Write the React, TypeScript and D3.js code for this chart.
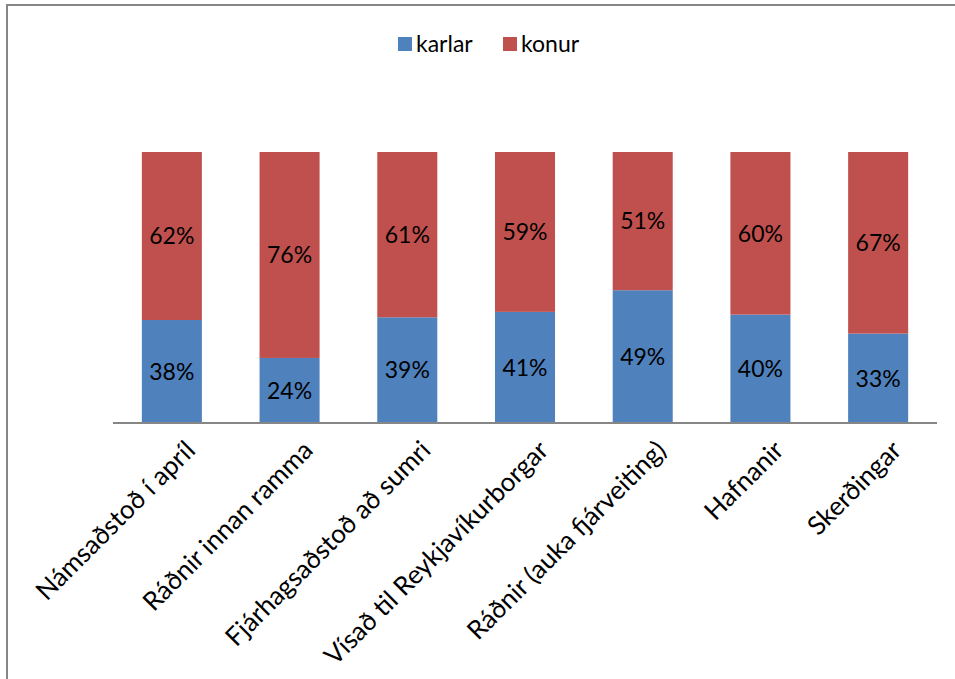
import React, { useEffect, useRef } from 'react';
import * as d3 from 'd3';

const categories = [
  'Námsaðstoð í apríl',
  'Ráðnir innan ramma',
  'Fjárhagsaðstoð að sumri',
  'Vísað til Reykjavíkurborgar',
  'Ráðnir (auka fjárveiting)',
  'Hafnanir',
  'Skerðingar',
];
const karlar = [38, 24, 39, 41, 49, 40, 33];
const konur = [62, 76, 61, 59, 51, 60, 67];
const seriesNames = ['karlar', 'konur'];
const seriesColors = ['#4F81BD', '#C0504D'];

const App: React.FC = () => {
  const ref = useRef<SVGSVGElement | null>(null);

  useEffect(() => {
    if (!ref.current) return;
    const svg = d3.select(ref.current);
    svg.selectAll('*').remove();

    const font = 'Lato, "Open Sans", sans-serif';
    const left = 113, right = 937, top = 152, bottom = 423;

    // chart frame
    svg.append('path')
      .attr('d', `M7,679 L7,5 L955,5`)
      .attr('fill', 'none')
      .attr('stroke', '#868686')
      .attr('stroke-width', 2);

    const x = d3.scaleBand()
      .domain(categories)
      .range([left, right])
      .paddingInner(0.49)
      .paddingOuter(0.245);

    const y = d3.scaleLinear().domain([0, 100]).range([bottom, top]);

    const rows = categories.map((c, i) => ({ cat: c, karlar: karlar[i], konur: konur[i] }));
    const stack = d3.stack<any>().keys(seriesNames)(rows);

    stack.forEach((layer, li) => {
      const g = svg.append('g');
      g.selectAll('rect')
        .data(layer)
        .enter()
        .append('rect')
        .attr('x', d => x(d.data.cat) || 0)
        .attr('y', d => y(d[1]))
        .attr('width', x.bandwidth())
        .attr('height', d => y(d[0]) - y(d[1]))
        .attr('fill', seriesColors[li]);

      g.selectAll('text')
        .data(layer)
        .enter()
        .append('text')
        .attr('x', d => (x(d.data.cat) || 0) + x.bandwidth() / 2)
        .attr('y', d => (y(d[0]) + y(d[1])) / 2)
        .attr('dy', '0.36em')
        .attr('text-anchor', 'middle')
        .style('font-family', font)
        .style('font-size', '23px')
        .attr('fill', '#000')
        .text(d => `${d[1] - d[0]}%`);
    });

    // axis line
    svg.append('line')
      .attr('x1', left).attr('x2', right)
      .attr('y1', bottom).attr('y2', bottom)
      .attr('stroke', '#868686')
      .attr('stroke-width', 2);

    // category labels
    svg.append('g')
      .selectAll('text')
      .data(categories)
      .enter()
      .append('text')
      .attr('transform', d => {
        const cx = (x(d) || 0) + x.bandwidth() / 2 + 12;
        return `translate(${cx},${bottom + 16}) rotate(-45)`;
      })
      .attr('text-anchor', 'end')
      .attr('dy', '0.7em')
      .style('font-family', font)
      .style('font-size', '26px')
      .attr('fill', '#000')
      .text(d => d);

    // legend
    const legend = svg.append('g');
    const items = [
      { name: 'karlar', x: 398 },
      { name: 'konur', x: 503 },
    ];
    items.forEach((it, i) => {
      legend.append('rect')
        .attr('x', it.x).attr('y', 37)
        .attr('width', 14).attr('height', 14)
        .attr('fill', seriesColors[i]);
      legend.append('text')
        .attr('x', it.x + 18).attr('y', 52)
        .style('font-family', font)
        .style('font-size', '23px')
        .attr('fill', '#000')
        .text(it.name);
    });
  }, []);

  return (
    <svg
      ref={ref}
      width={955}
      height={679}
      style={{ position: 'absolute', left: 0, top: 0, background: '#fff' }}
    />
  );
};

export default App;
